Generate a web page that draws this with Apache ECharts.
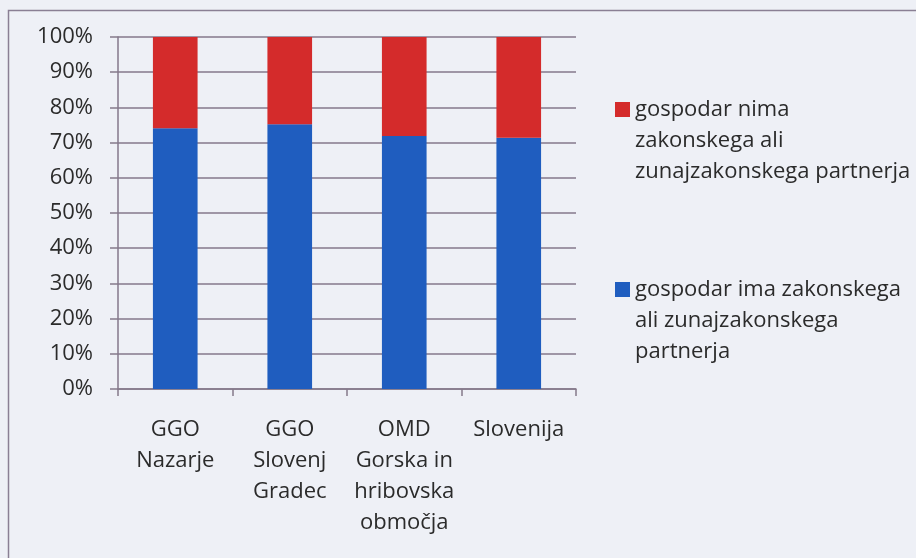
<!DOCTYPE html>
<html>
<head>
<meta charset="utf-8">
<script src="https://cdn.jsdelivr.net/npm/echarts@6/dist/echarts.min.js"></script>
<style>
html,body{margin:0;padding:0;background:#eef0f6;}
#c{width:916px;height:558px;}
</style>
</head>
<body>
<div id="c"></div>
<script>
const categories = ['GGO\nNazarje', 'GGO\nSlovenj\nGradec', 'OMD\nGorska in\nhribovska\nobmočja', 'Slovenija'];
const hasPartner = [74.1, 75.2, 71.9, 71.4];
const noPartner = [25.9, 24.8, 28.1, 28.6];
const nameNo = 'gospodar nima\nzakonskega ali\nzunajzakonskega partnerja';
const nameHas = 'gospodar ima zakonskega\nali zunajzakonskega\npartnerja';
const yTicks = [0, 10, 20, 30, 40, 50, 60, 70, 80, 90, 100];

const font = '"Open Sans", "Noto Sans", sans-serif';
const gridColor = '#85798b';
const textColor = '#2b2b2b';
const iconPath = 'path://M0,0H15V15H0Z M0,77';

const chart = echarts.init(document.getElementById('c'));
chart.setOption({
  backgroundColor: '#eef0f6',
  animation: false,
  textStyle: {fontFamily: font},
  graphic: [{
    type: 'rect', shape: {x: 8.5, y: 10.5, width: 1000, height: 600},
    style: {fill: 'none', stroke: '#8a7f94', lineWidth: 1.5}, silent: true, z: -1
  }],
  grid: {left: 118, right: 340, top: 37, bottom: 169, containLabel: false},
  legend: [{
    data: [nameNo], left: 615, top: 94, orient: 'vertical', padding: 0,
    icon: iconPath, itemWidth: 15, itemHeight: 77, itemGap: 4,
    textStyle: {fontSize: 22, color: textColor, lineHeight: 31, fontFamily: font}
  }, {
    data: [nameHas], left: 615, top: 274, orient: 'vertical', padding: 0,
    icon: iconPath, itemWidth: 15, itemHeight: 77, itemGap: 4,
    textStyle: {fontSize: 22, color: textColor, lineHeight: 31, fontFamily: font}
  }],
  xAxis: {
    type: 'category', data: categories,
    axisLine: {lineStyle: {color: gridColor, width: 1.5}},
    axisTick: {show: true, length: 7, lineStyle: {color: gridColor, width: 1.5}},
    axisLabel: {fontSize: 22, color: textColor, lineHeight: 31, margin: 25, interval: 0, fontFamily: font}
  },
  yAxis: {
    type: 'value', min: 0, max: 100, interval: 10,
    axisLine: {show: true, lineStyle: {color: gridColor, width: 1.5}},
    axisTick: {show: true, length: 8, lineStyle: {color: gridColor, width: 1.5}},
    splitLine: {lineStyle: {color: gridColor, width: 1.5}},
    axisLabel: {fontSize: 22, color: textColor, margin: 25, fontFamily: font,
      formatter: v => yTicks.indexOf(v) >= 0 ? v + '%' : ''}
  },
  series: [{
    name: nameHas, type: 'bar', stack: 's', data: hasPartner, barWidth: '39%',
    itemStyle: {color: '#1f5dbf'}
  }, {
    name: nameNo, type: 'bar', stack: 's', data: noPartner, barWidth: '39%',
    itemStyle: {color: '#d42b2b'}
  }]
});
</script>
</body>
</html>
